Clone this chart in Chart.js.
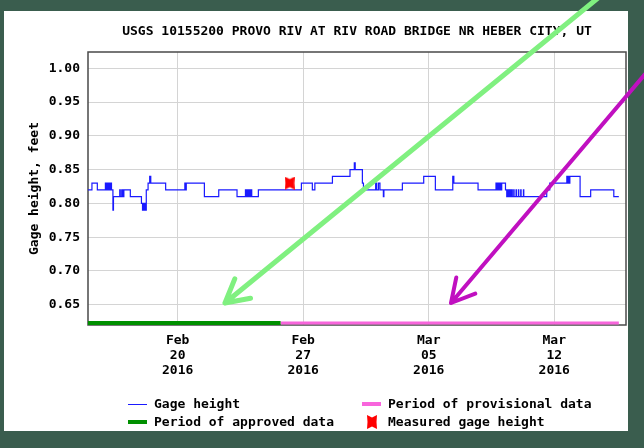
<!DOCTYPE html>
<html lang="en">
<head>
<meta charset="UTF-8">
<title>USGS 10155200 Gage height</title>
<script src="https://cdn.jsdelivr.net/npm/chart.js"></script>
<style>
    body {
        margin: 0;
        width: 644px;
        height: 448px;
        background: #3a5d4e;
        position: relative;
        overflow: hidden;
        font-family: 'DejaVu Sans Mono', monospace;
        font-weight: bold;
        font-size: 13px;
    }
    .panel {
        position: absolute;
        left: 4px;
        top: 11px;
        width: 624px;
        height: 420px;
        background: #fff;
    }
    #chart {
        position: absolute;
        left: 0;
        top: 0;
    }
    .legend-item {
        position: absolute;
        height: 18px;
        line-height: 18px;
        display: flex;
        align-items: center;
        color: #000;
        white-space: nowrap;
    }
    .legend-key {
        width: 19px;
        margin-right: 7px;
        display: flex;
        justify-content: center;
        align-items: center;
    }
    .key-line { width: 19px; height: 1px; background: #1a1aff; }
    .key-bar { width: 19px; height: 4px; }
</style>
</head>
<body>
    <div class="panel"></div>
    <canvas id="chart" width="644" height="448"></canvas>

    <div class="legend-item" style="left:128px; top:395px;">
        <span class="legend-key"><span class="key-line"></span></span>Gage height
    </div>
    <div class="legend-item" style="left:362px; top:395px;">
        <span class="legend-key"><span class="key-bar" style="background:#f865dc;"></span></span>Period of provisional data
    </div>
    <div class="legend-item" style="left:128px; top:413px;">
        <span class="legend-key"><span class="key-bar" style="background:#009000;"></span></span>Period of approved data
    </div>
    <div class="legend-item" style="left:362px; top:413px;">
        <span class="legend-key">
            <svg width="10" height="14" viewBox="0 0 10 14"><polygon points="0,0 5,2.5 10,0 9.5,7 10,14 5,11.5 0,14 0.5,7" fill="#ff0000"/></svg>
        </span>Measured gage height
    </div>

<script>
    // x values are days since 2016-02-15 00:00
    const xTickDays = [5, 12, 19, 26];
    const xTickLabels = [
        ['Feb', '20', '2016'],
        ['Feb', '27', '2016'],
        ['Mar', '05', '2016'],
        ['Mar', '12', '2016']
    ];
    const yTicks = [0.65, 0.70, 0.75, 0.80, 0.85, 0.90, 0.95, 1.00];

    // each point: the gage height that starts at that time
    const gageDays = [
        0.00, 0.22, 0.52, 0.97, 1.01, 1.05, 1.09, 1.13, 1.17, 1.21, 1.25, 1.29, 1.31,
        1.39, 1.42, 1.77, 1.80, 1.88, 1.91, 1.94, 1.97, 2.00, 2.36, 2.98, 3.04, 3.08,
        3.12, 3.16, 3.20, 3.25, 3.35, 3.44, 3.50, 4.33, 5.40, 5.43, 5.48, 6.49, 7.29,
        8.31, 8.78, 8.82, 8.86, 8.90, 8.94, 8.98, 9.02, 9.06, 9.10, 9.13, 9.50, 11.90,
        12.51, 12.65, 13.63, 14.61, 14.85, 14.90, 15.30, 15.36, 16.04, 16.10, 16.20,
        16.28, 16.47, 16.50, 17.53, 18.72, 19.37, 20.34, 20.40, 21.75, 22.75, 22.79,
        22.83, 22.87, 22.91, 22.95, 22.99, 23.03, 23.07, 23.28, 23.35, 23.39, 23.43,
        23.47, 23.51, 23.55, 23.59, 23.63, 23.66, 23.74, 23.76, 23.87, 23.89, 24.00,
        24.02, 24.13, 24.15, 24.28, 24.30, 25.58, 25.75, 26.70, 26.74, 26.78, 26.82,
        26.87, 27.44, 28.03, 29.32, 29.60
    ];
    const gageHeights = [
        0.82, 0.83, 0.82, 0.83, 0.82, 0.83, 0.82, 0.83, 0.82, 0.83, 0.82, 0.83, 0.82,
        0.79, 0.81, 0.82, 0.81, 0.82, 0.81, 0.82, 0.81, 0.82, 0.81, 0.80, 0.79, 0.80,
        0.79, 0.80, 0.79, 0.82, 0.83, 0.84, 0.83, 0.82, 0.83, 0.82, 0.83, 0.81, 0.82,
        0.81, 0.82, 0.81, 0.82, 0.81, 0.82, 0.81, 0.82, 0.81, 0.82, 0.81, 0.82, 0.83,
        0.82, 0.83, 0.84, 0.85, 0.86, 0.85, 0.83, 0.82, 0.83, 0.82, 0.83,
        0.82, 0.81, 0.82, 0.83, 0.84, 0.82, 0.84, 0.83, 0.82, 0.83, 0.82,
        0.83, 0.82, 0.83, 0.82, 0.83, 0.82, 0.83, 0.82, 0.81, 0.82, 0.81,
        0.82, 0.81, 0.82, 0.81, 0.82, 0.81, 0.82, 0.81, 0.82, 0.81, 0.82,
        0.81, 0.82, 0.81, 0.82, 0.81, 0.82, 0.83, 0.84, 0.83, 0.84, 0.83,
        0.84, 0.81, 0.82, 0.81, 0.81
    ];

    const measuredDays = [11.25];
    const measuredHeights = [0.83];

    const approvedPeriod = [0, 10.74];
    const provisionalPeriod = [10.74, 29.60];

    const yMin = 0.62;
    const yMax = 1.024;
    const barLevel = yMin + 0.003;

    Chart.defaults.font.family = "'DejaVu Sans Mono', monospace";
    Chart.defaults.font.weight = 'bold';
    Chart.defaults.font.size = 13;
    Chart.defaults.color = '#000';

    function makeMarker(w, h) {
        const c = document.createElement('canvas');
        c.width = w;
        c.height = h;
        const g = c.getContext('2d');
        g.fillStyle = '#ff0000';
        g.beginPath();
        g.moveTo(0, 0);
        g.lineTo(w / 2, 2.5);
        g.lineTo(w, 0);
        g.lineTo(w - 0.5, h / 2);
        g.lineTo(w, h);
        g.lineTo(w / 2, h - 2.5);
        g.lineTo(0, h);
        g.lineTo(0.5, h / 2);
        g.closePath();
        g.fill();
        return c;
    }

    const plotBorder = {
        id: 'plotBorder',
        beforeDatasetsDraw(chart) {
            const { ctx, chartArea: a } = chart;
            ctx.save();
            ctx.strokeStyle = '#4a4a4a';
            ctx.lineWidth = 1.5;
            ctx.strokeRect(a.left, a.top, a.right - a.left, a.bottom - a.top);
            ctx.restore();
        }
    };

    // hand-drawn arrows on top of the picture
    function drawArrow(ctx, x0, y0, x1, y1, color, width, head) {
        const ang = Math.atan2(y0 - y1, x0 - x1);
        ctx.save();
        ctx.strokeStyle = color;
        ctx.lineWidth = width;
        ctx.lineCap = 'round';
        ctx.lineJoin = 'round';
        ctx.beginPath();
        ctx.moveTo(x0, y0);
        ctx.lineTo(x1, y1);
        [-0.5, 0.5].forEach(s => {
            ctx.moveTo(x1, y1);
            ctx.lineTo(x1 + head * Math.cos(ang + s), y1 + head * Math.sin(ang + s));
        });
        ctx.stroke();
        ctx.restore();
    }

    const arrows = {
        id: 'arrows',
        afterDraw(chart) {
            drawArrow(chart.ctx, 598, -2, 225, 303, '#80f080', 5, 26);
            drawArrow(chart.ctx, 652, 66, 451, 303, '#c010c0', 4, 26);
        }
    };

    new Chart(document.getElementById('chart'), {
        type: 'line',
        data: {
            datasets: [
                {
                    label: 'Measured gage height',
                    data: measuredDays.map((d, i) => ({ x: d, y: measuredHeights[i] })),
                    showLine: false,
                    pointStyle: makeMarker(10, 13),
                    pointRadius: 6
                },
                {
                    label: 'Gage height',
                    data: gageDays.map((d, i) => ({ x: d, y: gageHeights[i] })),
                    borderColor: '#1a1aff',
                    borderWidth: 1.2,
                    stepped: 'before',
                    pointRadius: 0
                },
                {
                    label: 'Period of approved data',
                    data: approvedPeriod.map(d => ({ x: d, y: barLevel })),
                    borderColor: '#009000',
                    borderWidth: 4,
                    pointRadius: 0,
                    clip: false
                },
                {
                    label: 'Period of provisional data',
                    data: provisionalPeriod.map(d => ({ x: d, y: barLevel })),
                    borderColor: '#f865dc',
                    borderWidth: 3,
                    pointRadius: 0,
                    clip: false
                }
            ]
        },
        options: {
            responsive: false,
            animation: false,
            devicePixelRatio: 1,
            layout: { padding: { left: 0, right: 18, top: 0, bottom: 0 } },
            plugins: {
                legend: { display: false },
                tooltip: { enabled: false },
                title: {
                    display: true,
                    fullSize: false,
                    text: 'USGS 10155200 PROVO RIV AT RIV ROAD BRIDGE NR HEBER CITY, UT',
                    color: '#000',
                    font: { size: 13, weight: 'bold', lineHeight: 1.2 },
                    padding: { top: 24, bottom: 12.4 }
                }
            },
            scales: {
                x: {
                    type: 'linear',
                    min: 0,
                    max: 30,
                    afterFit: s => { s.height = 123; },
                    afterBuildTicks: s => { s.ticks = xTickDays.map(v => ({ value: v })); },
                    grid: { color: '#d4d4d4', drawTicks: false },
                    border: { display: false },
                    ticks: {
                        autoSkip: false,
                        maxRotation: 0,
                        padding: 8,
                        font: { size: 13, weight: 'bold', lineHeight: 1.15 },
                        callback: (v, i) => xTickLabels[i]
                    }
                },
                y: {
                    min: yMin,
                    max: yMax,
                    afterFit: s => { s.width = 88; },
                    afterBuildTicks: s => { s.ticks = yTicks.map(v => ({ value: v })); },
                    grid: { color: '#d4d4d4', drawTicks: false },
                    border: { display: false },
                    ticks: {
                        padding: 8,
                        callback: v => v.toFixed(2)
                    },
                    title: {
                        display: true,
                        text: 'Gage height, feet',
                        font: { size: 13, weight: 'bold', lineHeight: 1.2 },
                        padding: { top: 27, bottom: 0 }
                    }
                }
            }
        },
        plugins: [plotBorder, arrows]
    });
</script>
</body>
</html>
